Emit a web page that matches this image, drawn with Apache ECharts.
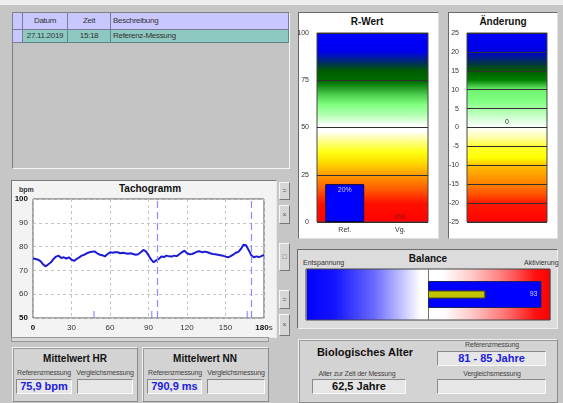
<!DOCTYPE html>
<html><head><meta charset="utf-8">
<script src="https://cdn.jsdelivr.net/npm/echarts@6/dist/echarts.min.js"></script>
<style>
body{margin:0;width:563px;height:403px;overflow:hidden;background:#c6c6c6;font-family:"Liberation Sans",Arial,sans-serif;position:relative}
.a{position:absolute;box-sizing:border-box}
.sunk{border:1px solid;border-color:#808080 #f4f4f4 #f4f4f4 #808080}
.t{position:absolute;white-space:nowrap;color:#333;font-size:8px}
.hdr{background:#c8c8ff;border-right:1px solid #7a7a9a;border-bottom:1px solid #7a7a9a}
.row{background:#8ec9c1;border-right:1px solid #5a8a84;border-bottom:1px solid #5a8a84}
.cell{position:absolute;box-sizing:border-box;font-size:8px;color:#333;line-height:16px;letter-spacing:-0.3px}
.panel{background:#d3d3d3;border:1px solid;border-color:#f0f0f0 #8a8a8a #8a8a8a #f0f0f0;box-shadow:inset 1px 1px 0 #9a9a9a}
.box{position:absolute;box-sizing:border-box;background:#e6e6e6;border:1px solid;border-color:#8a8a8a #fafafa #fafafa #8a8a8a;font-weight:bold;font-size:11px;text-align:center;line-height:13px}
.ttl{position:absolute;font-weight:bold;font-size:11px;color:#111;white-space:nowrap;transform:translateX(-50%)}
.sm{position:absolute;font-size:7px;color:#444;white-space:nowrap;transform:translateX(-50%);letter-spacing:-0.2px}
.btn{position:absolute;left:279px;width:11px;background:#d6d6d6;border:1px solid;border-color:#f6f6f6 #777 #777 #f6f6f6;box-sizing:border-box;font-size:7px;color:#555;text-align:center}
</style></head>
<body>
<div class="a" style="left:0;top:0;width:563px;height:5px;background:#eeeeee"></div>

<!-- table -->
<div class="a sunk" style="left:12px;top:12px;width:278px;height:157px;background:#c3c3c3"></div>
<div class="cell hdr" style="left:13px;top:13px;width:10px;height:17px"></div>
<div class="cell hdr" style="left:23px;top:13px;width:45px;height:17px;text-align:center">Datum</div>
<div class="cell hdr" style="left:68px;top:13px;width:43px;height:17px;text-align:center">Zeit</div>
<div class="cell hdr" style="left:111px;top:13px;width:178px;height:17px;padding-left:2px">Beschreibung</div>
<div class="cell hdr" style="left:13px;top:30px;width:10px;height:13px"></div>
<div class="cell row" style="left:23px;top:30px;width:45px;height:13px;text-align:center;line-height:12px">27.11.2019</div>
<div class="cell row" style="left:68px;top:30px;width:43px;height:13px;text-align:center;line-height:12px">15:18</div>
<div class="cell row" style="left:111px;top:30px;width:178px;height:13px;padding-left:2px;line-height:12px">Referenz-Messung</div>

<!-- tachogram panel -->
<div class="a" style="left:11px;top:180px;width:266px;height:158px;background:#f3f3f3;border:1px solid;border-color:#7a7a7a #e8e8e8 #e8e8e8 #7a7a7a"></div>
<div class="ttl" style="left:150px;top:183px;font-size:10px">Tachogramm</div>
<div class="t" style="left:19px;top:186px;font-size:7px;font-weight:bold">bpm</div>

<div class="btn" style="top:182px;height:18px;line-height:16px">=</div>
<div class="btn" style="top:205px;height:19px;line-height:17px">&#215;</div>
<div class="btn" style="top:243px;height:28px;line-height:26px">&#9633;</div>
<div class="btn" style="top:290px;height:19px;line-height:17px">=</div>
<div class="btn" style="top:314px;height:22px;line-height:20px">&#215;</div>

<!-- R-Wert / Änderung panels -->
<div class="a" style="left:298px;top:12px;width:141px;height:227px;background:#fff;border:1px solid;border-color:#6a6a6a #e0e0e0 #e0e0e0 #6a6a6a"></div>
<div class="ttl" style="left:367px;top:16px;font-size:10px">R-Wert</div>
<div class="a" style="left:448px;top:12px;width:110px;height:227px;background:#fff;border:1px solid;border-color:#6a6a6a #e0e0e0 #e0e0e0 #6a6a6a"></div>
<div class="ttl" style="left:503px;top:16px;font-size:10px">Änderung</div>

<!-- Balance panel -->
<div class="a" style="left:297px;top:249px;width:261px;height:80px;background:#dcdcdc;border:1px solid;border-color:#6a6a6a #f0f0f0 #f0f0f0 #6a6a6a"></div>
<div class="ttl" style="left:428px;top:253px;font-size:10px">Balance</div>
<div class="t" style="left:303px;top:259px;font-size:7px">Entspannung</div>
<div class="t" style="left:524px;top:259px;font-size:7px">Aktivierung</div>

<!-- bottom panels -->
<div class="a" style="left:11px;top:337px;width:258px;height:5px;background:#d6d6d6;border:1px solid #999"></div>
<div class="a panel" style="left:12px;top:347px;width:126px;height:55px"></div>
<div class="ttl" style="left:75px;top:353px;font-size:10px">Mittelwert HR</div>
<div class="sm" style="left:44px;top:369px">Referenzmessung</div>
<div class="sm" style="left:105px;top:369px">Vergleichsmessung</div>
<div class="box" style="left:16px;top:379px;width:56px;height:15px;color:#2020e0">75,9 bpm</div>
<div class="box" style="left:77px;top:379px;width:56px;height:15px"></div>

<div class="a panel" style="left:142px;top:347px;width:127px;height:55px"></div>
<div class="ttl" style="left:205px;top:353px;font-size:10px">Mittelwert NN</div>
<div class="sm" style="left:175px;top:369px">Referenzmessung</div>
<div class="sm" style="left:236px;top:369px">Vergleichsmessung</div>
<div class="box" style="left:147px;top:379px;width:55px;height:15px;color:#2020e0">790,9 ms</div>
<div class="box" style="left:207px;top:379px;width:58px;height:15px"></div>

<div class="a panel" style="left:298px;top:339px;width:260px;height:64px"></div>
<div class="ttl" style="left:365px;top:346px;font-size:11px">Biologisches Alter</div>
<div class="sm" style="left:492px;top:341px">Referenzmessung</div>
<div class="box" style="left:437px;top:351px;width:109px;height:15px;color:#2020e0">81 - 85 Jahre</div>
<div class="sm" style="left:357px;top:370px">Alter zur Zeit der Messung</div>
<div class="sm" style="left:492px;top:370px">Vergleichsmessung</div>
<div class="box" style="left:312px;top:379px;width:94px;height:15px;color:#111">62,5 Jahre</div>
<div class="box" style="left:437px;top:379px;width:109px;height:15px"></div>

<div id="chart" class="a" style="left:0;top:0;width:563px;height:403px;pointer-events:none"></div>
<script>
// ---- data ----
const tachoTime = [0,2,4,6,8,10,12,14,16,18,20,22,24,26,28,30,32,34,36,38,40,42,44,46,48,50,52,54,56,58,60,62,64,66,68,70,72,74,76,78,80,82,84,86,88,90,92,94,96,98,100,102,104,106,108,110,112,114,116,118,120,122,124,126,128,130,132,134,136,138,140,142,144,146,148,150,152,154,156,158,160,162,164,166,168,170,172,174,176,178,180];
const tachoBpm  = [75,74.8,74.5,73.8,72.4,71.7,72.6,73.4,74.8,75.8,76.2,75.2,75.5,75,75.5,74.5,74,74.8,75.5,76.2,76.6,77.2,77.6,77.8,78,77.2,76.6,76.4,75.9,76.8,77.6,77.4,77.6,77.6,77.2,77.4,77.2,77,77.2,76.9,76.6,76.8,77.6,78.6,78,76.4,74.6,73.4,74.2,74.8,75.8,75.6,76.2,75.9,75.8,76.2,76,76.8,77.6,78.3,77.2,76.8,76.9,77.4,77.9,78,77.6,77.9,77.6,77.2,76.9,76.8,76.6,76.4,76.2,75.8,75.5,76,76.6,77.4,77.8,79,80.8,80.6,78.6,76.4,75.5,75.9,75.6,76,76.5];
const tachoXTicks = [0,30,60,90,120,150,180];
const sectionLines = [97,170];
const eventMarks = [47.5,92.5,167];

const rCategories = ['Ref.','Vg.'];
const rValues = [20,0];

const changeCategories = ['Änderung'];
const changeValues = [0];

const balanceCategories = ['Balance'];
const balanceRef = [93];
const balanceCmp = [47];

// ---- chart ----
const chart = echarts.init(document.getElementById('chart'), null, {renderer:'canvas'});
const lbl = {fontFamily:'Liberation Sans', fontSize:8, color:'#333'};
function grad(vertical, stops){
  return {type:'linear', x:0, y:0, x2: vertical?0:1, y2: vertical?1:0,
    colorStops: stops.map(s=>({offset:s[0], color:s[1]}))};
}
const rGrad = grad(true,[[0,'#0000ff'],[0.1,'#0000f0'],[0.16,'#003060'],[0.2,'#005a00'],[0.26,'#007000'],[0.33,'#50d050'],[0.38,'#80ff80'],[0.44,'#b8ffb8'],[0.49,'#ffffff'],[0.52,'#ffffff'],[0.57,'#ffff90'],[0.63,'#ffff10'],[0.68,'#ffe000'],[0.75,'#ff9c00'],[0.82,'#ff6000'],[0.9,'#ff1000'],[1,'#ff0000']]);
const cGrad = grad(true,[[0,'#0000ff'],[0.1,'#0000e0'],[0.15,'#002a60'],[0.2,'#005a00'],[0.25,'#008000'],[0.3,'#70f070'],[0.36,'#80ff80'],[0.44,'#c8ffc8'],[0.5,'#ffffff'],[0.55,'#ffffb0'],[0.6,'#ffff30'],[0.66,'#ffff00'],[0.7,'#ffc000'],[0.76,'#ff9800'],[0.8,'#ff8000'],[0.86,'#ff4a00'],[0.9,'#ff1800'],[1,'#ff0000']]);
const bGrad = grad(false,[[0,'#0000ff'],[0.12,'#1515ff'],[0.28,'#6a6aff'],[0.4,'#c8c8ff'],[0.47,'#ffffff'],[0.56,'#ffffff'],[0.68,'#ffc8c8'],[0.82,'#ff7070'],[0.94,'#ff1010'],[1,'#ff0000']]);

chart.setOption({
  animation:false,
  grid:[
    {left:33, top:199, width:231, height:119, show:true, backgroundColor:'#ffffff', borderColor:'#555', borderWidth:1},
    {left:317, top:33, width:111, height:189, show:true, backgroundColor:rGrad, borderColor:'#444', borderWidth:1},
    {left:467, top:33, width:80, height:189, show:true, backgroundColor:cGrad, borderColor:'#444', borderWidth:1},
    {left:306, top:269, width:244, height:51, show:true, backgroundColor:bGrad, borderColor:'#444', borderWidth:1}
  ],
  xAxis:[
    {type:'value', gridIndex:0, min:0, max:180, interval:30,
     axisLine:{show:false}, axisTick:{show:false},
     splitLine:{show:true, lineStyle:{color:'#c4c4c4', type:[3,3]}},
     axisLabel:Object.assign({}, lbl, {margin:6, showMinLabel:true, showMaxLabel:true,
       formatter:v=> v===0 ? '{b|0}' : (v===180 ? '{b|180}s' : String(v)),
       rich:{b:{fontWeight:'bold', fontSize:8, color:'#111', fontFamily:'Liberation Sans'}}})},
    {type:'category', gridIndex:1, data:rCategories, axisLine:{show:false}, axisTick:{show:false},
     axisLabel:Object.assign({}, lbl, {fontSize:7, margin:5})},
    {type:'category', gridIndex:2, data:changeCategories, axisLine:{show:false}, axisTick:{show:false}, axisLabel:{show:false}},
    {type:'value', gridIndex:3, min:-100, max:100, interval:100, axisLine:{show:false}, axisTick:{show:false}, axisLabel:{show:false},
     splitLine:{show:true, lineStyle:{color:'#777', width:1}}}
  ],
  yAxis:[
    {type:'value', gridIndex:0, min:50, max:100, interval:10,
     axisLine:{show:false}, axisTick:{show:false},
     splitLine:{show:true, lineStyle:{color:'#c4c4c4', type:[3,3]}},
     axisLabel:Object.assign({}, lbl, {margin:5,
       formatter:v=> (v===50||v===100) ? '{b|'+v+'}' : String(v),
       rich:{b:{fontWeight:'bold', fontSize:8, color:'#111', fontFamily:'Liberation Sans'}}})},
    {type:'value', gridIndex:1, min:0, max:100, interval:25, axisLine:{show:false}, axisTick:{show:false},
     splitLine:{show:true, lineStyle:{color:'#303030', width:1}},
     axisLabel:Object.assign({}, lbl, {fontSize:7, margin:8})},
    {type:'value', gridIndex:2, min:-25, max:25, interval:5, axisLine:{show:false}, axisTick:{show:false},
     splitLine:{show:true, lineStyle:{color:'#303030', width:1}},
     axisLabel:Object.assign({}, lbl, {fontSize:7, margin:8})},
    {type:'category', gridIndex:3, data:balanceCategories, axisLine:{show:false}, axisTick:{show:false}, axisLabel:{show:false}},
    {type:'category', gridIndex:3, data:balanceCategories, axisLine:{show:false}, axisTick:{show:false}, axisLabel:{show:false}}
  ],
  series:[
    {type:'line', xAxisIndex:0, yAxisIndex:0, data:tachoTime.map((t,i)=>[t,tachoBpm[i]]),
     symbol:'none', lineStyle:{color:'#1c1cd6', width:2},
     markLine:{silent:true, symbol:'none', label:{show:false},
       lineStyle:{color:'#8c8cff', type:[7,4], width:1.2},
       data:sectionLines.map(x=>({xAxis:x}))}},
    {type:'scatter', xAxisIndex:0, yAxisIndex:0, data:eventMarks.map(x=>[x,50]),
     symbol:'rect', symbolSize:[1.5,7], symbolOffset:[0,-3.5], itemStyle:{color:'#8c8cff'}},
    {type:'bar', xAxisIndex:1, yAxisIndex:1, barWidth:'70%',
     data:rValues.map((v,i)=>({value:v,
        itemStyle: v>0 ? {color:'#0000ff', borderColor:'#000050', borderWidth:1} : {color:'rgba(0,0,0,0)', borderWidth:0},
        label:{show:true, position: v>5 ? 'insideTop' : 'top', distance: v>5 ? 2 : 1,
               color: v>5 ? '#c8c8ff' : '#8a1010', fontSize:7, fontFamily:'Liberation Sans',
               formatter: v+'%'}}))},
    {type:'bar', xAxisIndex:2, yAxisIndex:2, barWidth:1,
     data:changeValues, itemStyle:{color:'rgba(0,0,0,0)'},
     label:{show:true, position:'top', distance:2, color:'#333', fontSize:7, fontFamily:'Liberation Sans', formatter:'{c}'}},
    {type:'bar', xAxisIndex:3, yAxisIndex:3, barWidth:27, data:balanceRef,
     itemStyle:{color:'#0000ff', borderColor:'#202060', borderWidth:1},
     label:{show:true, position:'insideRight', distance:4, color:'#d0d0ff', fontSize:7, fontFamily:'Liberation Sans'}},
    {type:'bar', xAxisIndex:3, yAxisIndex:4, barWidth:8, data:balanceCmp,
     itemStyle:{color:'#c2c200', borderColor:'#505000', borderWidth:1}}
  ]
});
</script>
</body></html>
